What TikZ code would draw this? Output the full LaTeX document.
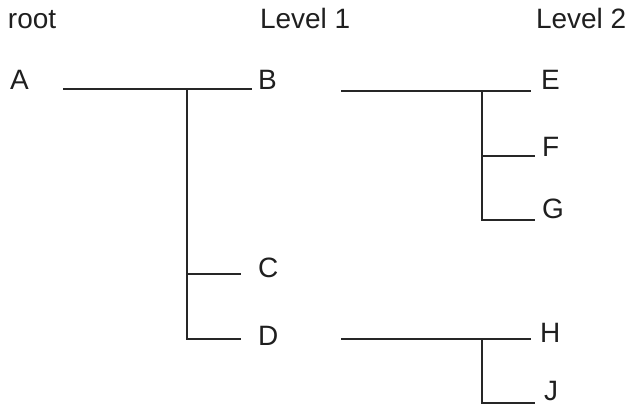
\documentclass[tikz,border=0pt]{standalone}
\usepackage{fontspec}
\setmainfont{Liberation Sans}
\begin{document}
\begin{tikzpicture}[x=1pt,y=-1pt,
  lbl/.style={anchor=base west,inner sep=0pt,outer sep=0pt,font=\fontsize{28}{32}\selectfont,text=black!88},
  treeline/.style={line width=2pt,draw=black!85}]
\useasboundingbox (0,0) rectangle (630,406);
% headers
\node[lbl] (root) at (8,29) {root};
\node[lbl] (lv1) at (260,29) {Level 1};
\node[lbl] (lv2) at (536,29) {Level 2};
% leaves
\node[lbl] (A) at (10,90) {A};
\node[lbl] (B) at (258,90) {B};
\node[lbl] (C) at (258,278) {C};
\node[lbl] (D) at (258,346) {D};
\node[lbl] (E) at (541,90) {E};
\node[lbl] (F) at (542,157) {F};
\node[lbl] (G) at (542,219) {G};
\node[lbl] (H) at (540,343) {H};
\node[lbl] (J) at (544,401) {J};
% connector points
\coordinate (a0) at (63,89);
\coordinate (a1) at (187,89);
\coordinate (a2) at (252,89);
\coordinate (c0) at (187,274);
\coordinate (c1) at (241,274);
\coordinate (d0) at (187,339);
\coordinate (d1) at (241,339);
\coordinate (b0) at (341,91);
\coordinate (b1) at (482,91);
\coordinate (b2) at (531,91);
\coordinate (f0) at (482,156);
\coordinate (f1) at (535,156);
\coordinate (g0) at (482,220);
\coordinate (g1) at (535,220);
\coordinate (h0) at (341,339);
\coordinate (h1) at (482,339);
\coordinate (h2) at (531,339);
\coordinate (j0) at (482,403);
\coordinate (j1) at (535,403);
% level 1
\draw[treeline] (a0) -- (a2);
\draw[treeline] (a1) -- (d0) -- (d1);
\draw[treeline] (c0) -- (c1);
% level 2 under B
\draw[treeline] (b0) -- (b2);
\draw[treeline] (b1) -- (g0) -- (g1);
\draw[treeline] (f0) -- (f1);
% level 2 under D
\draw[treeline] (h0) -- (h2);
\draw[treeline] (h1) -- (j0) -- (j1);
\end{tikzpicture}
\end{document}
